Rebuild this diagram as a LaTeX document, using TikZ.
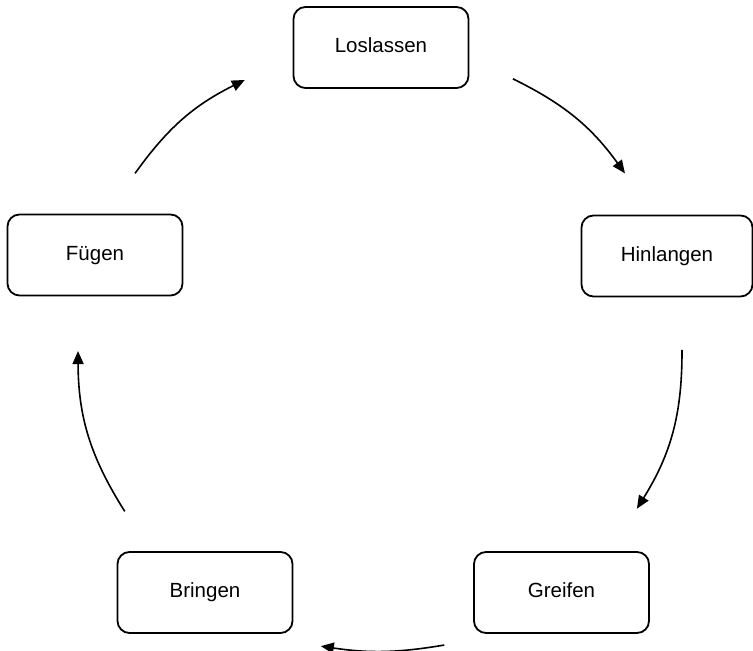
\documentclass[tikz,border=0pt]{standalone}
\usepackage{fontspec}
\setmainfont{Liberation Sans}
\usetikzlibrary{calc, arrows.meta}

\begin{document}
\begin{tikzpicture}[x=1bp, y=1bp, >={Triangle[length=13bp, width=11bp]},
  font=\fontsize{20.5bp}{24bp}\selectfont,
  box/.style={draw, line width=1.8bp, rounded corners=12bp, minimum width=175bp, minimum height=81bp,
    inner sep=0pt, text height=15bp, text depth=4bp},
  flow/.style={->, line width=1.6bp}]
  \useasboundingbox (0,0) rectangle (753,651);
  % process steps
  \node[box] (los) at (381, 603.5) {Loslassen};
  \node[box, minimum width=171bp] (hin) at (667, 395) {Hinlangen};
  \node[box] (grei) at (561.5, 58.5) {Greifen};
  \node[box] (bri) at (205, 58.5) {Bringen};
  \node[box] (fue) at (95, 396) {Fügen};
  % cycle arrows
  \coordinate (mid) at (380, 301);
  \foreach \n/\a/\b/\bend in {1/63.9/35.8/14, 2/0/-31.7/16, 3/-77.7/-101.3/9, 4/212.3/180.2/16, 5/144.2/116.6/14}{
    \coordinate (s\n) at ($(mid)+(\a:302)$);
    \coordinate (e\n) at ($(mid)+(\b:302)$);
    \draw[flow] (s\n) to[bend left=\bend] (e\n);
  }
\end{tikzpicture}
\end{document}
